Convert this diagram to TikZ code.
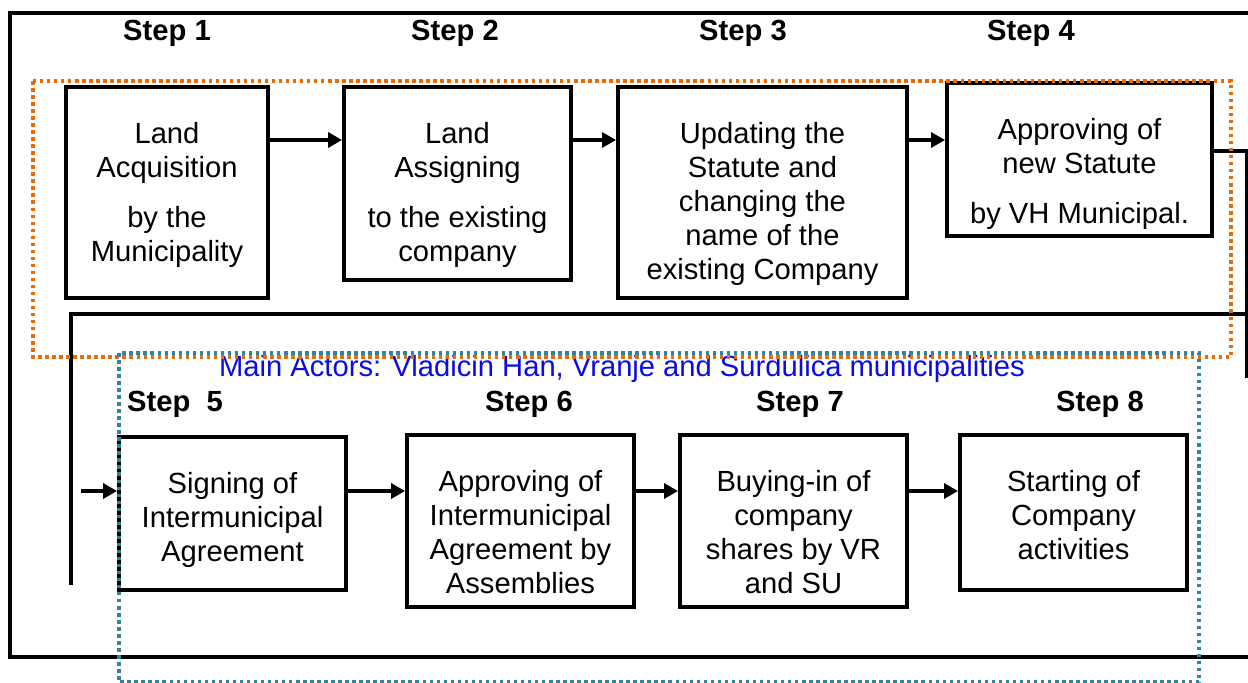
\documentclass[tikz,border=0pt]{standalone}
\usepackage{fontspec}
\setmainfont{Liberation Sans}
\usetikzlibrary{arrows.meta}
\definecolor{frameorange}{RGB}{228,108,10}
\definecolor{frameteal}{RGB}{49,132,155}
\definecolor{actorblue}{RGB}{10,10,230}

\begin{document}
\begin{tikzpicture}[x=0.02cm, y=-0.02cm, >={Triangle[length=8pt,width=8.5pt]},
  stepbox/.style={draw, line width=2.2pt, fill=white, inner sep=0pt},
  boxtext/.style={align=center, inner sep=0pt, anchor=north, yshift=-0.73cm,
    font=\fontsize{16.6}{19.4}\selectfont},
  steplbl/.style={font=\bfseries\fontsize{16.6}{19.4}\selectfont},
  link/.style={->, line width=2pt},
  wire/.style={line width=2pt}]
\useasboundingbox (0,0) rectangle (1248,683);

% outer frame
\draw[line width=2.8pt] (1248,13) -- (10,13) -- (10,657) -- (1248,657);

% step labels
\node[steplbl] (l1) at (167,33) {Step 1};
\node[steplbl] (l2) at (455,33) {Step 2};
\node[steplbl] (l3) at (743,33) {Step 3};
\node[steplbl] (l4) at (1031,33) {Step 4};
\node[steplbl, anchor=west] (l5) at (121,404) {Step\ \ 5};
\node[steplbl] (l6) at (529,404) {Step 6};
\node[steplbl] (l7) at (800,404) {Step 7};
\node[steplbl] (l8) at (1100,404) {Step 8};

% first row
\node[stepbox, minimum width=4.04cm, minimum height=4.22cm] (st1) at (167,192.5) {};
\node[stepbox, minimum width=4.54cm, minimum height=3.86cm] (st2) at (457.5,183.5) {};
\node[stepbox, minimum width=5.78cm, minimum height=4.22cm] (st3) at (762.5,192.5) {};
\node[stepbox, minimum width=5.30cm, minimum height=3.06cm] (st4) at (1079.5,159.5) {};
\node[boxtext] at (st1.north) {Land\\Acquisition\\[9pt]by the\\Municipality};
\node[boxtext] at (st2.north) {Land\\Assigning\\[9pt]to the existing\\company};
\node[boxtext] at (st3.north) {Updating the\\Statute and\\changing the\\name of the\\existing Company};
\node[boxtext] at (st4.north) {Approving of\\new Statute\\[9pt]by VH Municipal.};

% second row
\node[stepbox, minimum width=4.54cm, minimum height=3.06cm] (st5) at (232.5,513.5) {};
\node[stepbox, minimum width=4.54cm, minimum height=3.44cm] (st6) at (520.5,521) {};
\node[stepbox, minimum width=4.54cm, minimum height=3.44cm] (st7) at (793.5,521) {};
\node[stepbox, minimum width=4.54cm, minimum height=3.10cm] (st8) at (1073.5,512.5) {};
\node[boxtext] at (st5.north) {Signing of\\Intermunicipal\\Agreement};
\node[boxtext] at (st6.north) {Approving of\\Intermunicipal\\Agreement by\\Assemblies};
\node[boxtext] at (st7.north) {Buying-in of\\company\\shares by VR\\and SU};
\node[boxtext] at (st8.north) {Starting of\\Company\\activities};

\node[text=actorblue, font=\fontsize{16.6}{19.4}\selectfont] (actors) at (622,369)
  {Main Actors: Vladicin Han, Vranje and Surdulica municipalities};

% arrows between steps
\coordinate (rowA) at (0,140);
\coordinate (rowB) at (0,491);
\draw[link] (st1.east |- rowA) -- (st2.west |- rowA);
\draw[link] (st2.east |- rowA) -- (st3.west |- rowA);
\draw[link] (st3.east |- rowA) -- (st4.west |- rowA);
\draw[link] (st5.east |- rowB) -- (st6.west |- rowB);
\draw[link] (st6.east |- rowB) -- (st7.west |- rowB);
\draw[link] (st7.east |- rowB) -- (st8.west |- rowB);

% going down to the second row
\coordinate (turnA) at (1247,151);
\coordinate (downA) at (1247,378);
\coordinate (backR) at (1247,314);
\coordinate (backL) at (71,314);
\coordinate (downB) at (71,585);
\coordinate (feed) at (81,491);
\draw[wire] (st4.east |- turnA) -- (turnA) -- (downA);
\draw[wire] (backR) -- (backL) -- (downB);
\draw[link] (feed) -- (st5.west |- feed);

% dotted frames
\draw[frameorange, line width=1.8pt, dash pattern=on 2pt off 2pt] (33,81) rectangle (1231,357);
\draw[frameteal, line width=1.8pt, dash pattern=on 2pt off 2pt] (119,353) rectangle (1199,682);
\end{tikzpicture}
\end{document}
